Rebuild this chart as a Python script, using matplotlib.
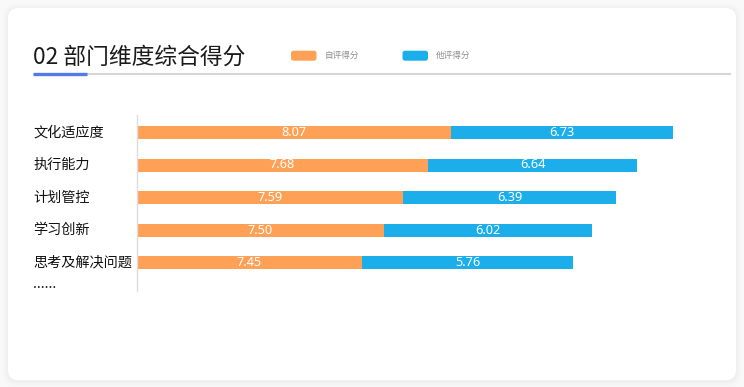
import matplotlib
matplotlib.use("Agg")
import matplotlib.pyplot as plt
from matplotlib.patches import FancyBboxPatch
from matplotlib.lines import Line2D
from matplotlib.transforms import blended_transform_factory

plt.rcParams['font.family'] = ['Noto Sans CJK SC', 'DejaVu Sans']

# ---- data ----
title = "02 部门维度综合得分"
categories = ["文化适应度", "执行能力", "计划管控", "学习创新", "思考及解决问题"]
self_scores = [8.07, 7.68, 7.59, 7.50, 7.45]
peer_scores = [6.73, 6.64, 6.39, 6.02, 5.76]
# bar lengths as drawn in the reference (not proportional to the printed scores)
self_len = [8.07, 7.48, 6.84, 6.33, 5.78]
peer_len = [5.68, 5.35, 5.45, 5.34, 5.40]
legend_labels = ["自评得分", "他评得分"]
more_label = "......"

ORANGE = "#FEA157"
BLUE = "#1CAEEA"

W, H = 744, 387
fig = plt.figure(figsize=(W / 100, H / 100), dpi=100)
fig.patch.set_facecolor("#f9f9f9")
T = fig.dpi_scale_trans  # inches


def P(x, y):
    return x / 100, (H - y) / 100


# card shadow + card
for pad, a in [(6, 0.006), (4, 0.010), (2, 0.014)]:
    x0, y0 = P(8 - pad, 380 + pad)
    fig.patches.append(FancyBboxPatch((x0, y0 - 0.01), (728 + 2 * pad) / 100, (372 + 2 * pad) / 100,
                                      boxstyle="round,pad=0,rounding_size=%f" % ((10 + pad) / 100),
                                      transform=T, facecolor="black", edgecolor="none", alpha=a, zorder=0))
x0, y0 = P(8, 380)
fig.patches.append(FancyBboxPatch((x0, y0), 728 / 100, 372 / 100,
                                  boxstyle="round,pad=0,rounding_size=0.10",
                                  transform=T, facecolor="white", edgecolor="none", zorder=1))

# title + underline
fig.text(*P(33, 63.5), title, transform=T, fontsize=16.4, color="#1a1a1a", va="baseline", ha="left", zorder=3)
fig.lines.append(Line2D([0.87, 7.30], [(H - 73.7) / 100] * 2, transform=T, color="#d5d5d5", lw=1.5, zorder=2))
fig.lines.append(Line2D([0.33, 0.87], [(H - 74.2) / 100] * 2, transform=T, color="#5479E8", lw=2.4,
                        solid_capstyle="butt", zorder=3))

# legend
for (lx, tx), col, lab in zip([(291, 325), (402.5, 436)], [ORANGE, BLUE], legend_labels):
    bx, by = P(lx, 60.7)
    fig.patches.append(FancyBboxPatch((bx, by), 0.255, 0.10, boxstyle="round,pad=0,rounding_size=0.025",
                                      transform=T, facecolor=col, edgecolor="none", zorder=3))
    fig.text(*P(tx, 55.5), lab, transform=T, fontsize=6.2, color="#8f8f8f", va="center", ha="left", zorder=3)

# chart axes
px_per_unit = 39.03
left_px, right_px = 136.5, 736
top_px, bot_px = 115, 291
row0, step = 132.5, 32.5
ax = fig.add_axes([left_px / W, 1 - bot_px / H, (right_px - left_px) / W, (bot_px - top_px) / H])
ax.set_facecolor("none")
ax.set_zorder(4)
ax.set_xlim(0, (right_px - left_px) / px_per_unit)
ax.set_ylim((bot_px - row0) / step, (top_px - row0) / step)

ys = list(range(len(categories)))
ax.barh(ys, self_len, height=0.4, color=ORANGE, edgecolor="none")
ax.barh(ys, peer_len, left=self_len, height=0.4, color=BLUE, edgecolor="none")

for i in ys:
    ax.text(self_len[i] / 2, i, f"{self_scores[i]:.2f}", ha="center", va="center",
            color="white", fontsize=9.2, family=["Noto Sans", "DejaVu Sans"])
    ax.text(self_len[i] + peer_len[i] / 2, i, f"{peer_scores[i]:.2f}", ha="center", va="center",
            color="white", fontsize=9.2, family=["Noto Sans", "DejaVu Sans"])

tr = blended_transform_factory(fig.transFigure, ax.transData)
for i, c in enumerate(categories):
    ax.text(33 / W, i, c, transform=tr, ha="left", va="center", fontsize=10.2, color="#111111",
            fontweight="medium")
fig.text(33 / W, 1 - 288 / H, more_label, ha="left", va="baseline", fontsize=10.2, color="#111111",
         fontweight="medium", zorder=5)

for s in ["top", "right", "bottom"]:
    ax.spines[s].set_visible(False)
ax.spines["left"].set_color("#dddddd")
ax.spines["left"].set_linewidth(1)
ax.set_xticks([])
ax.set_yticks([])

fig.savefig("out.png", dpi=100, facecolor=fig.get_facecolor())
